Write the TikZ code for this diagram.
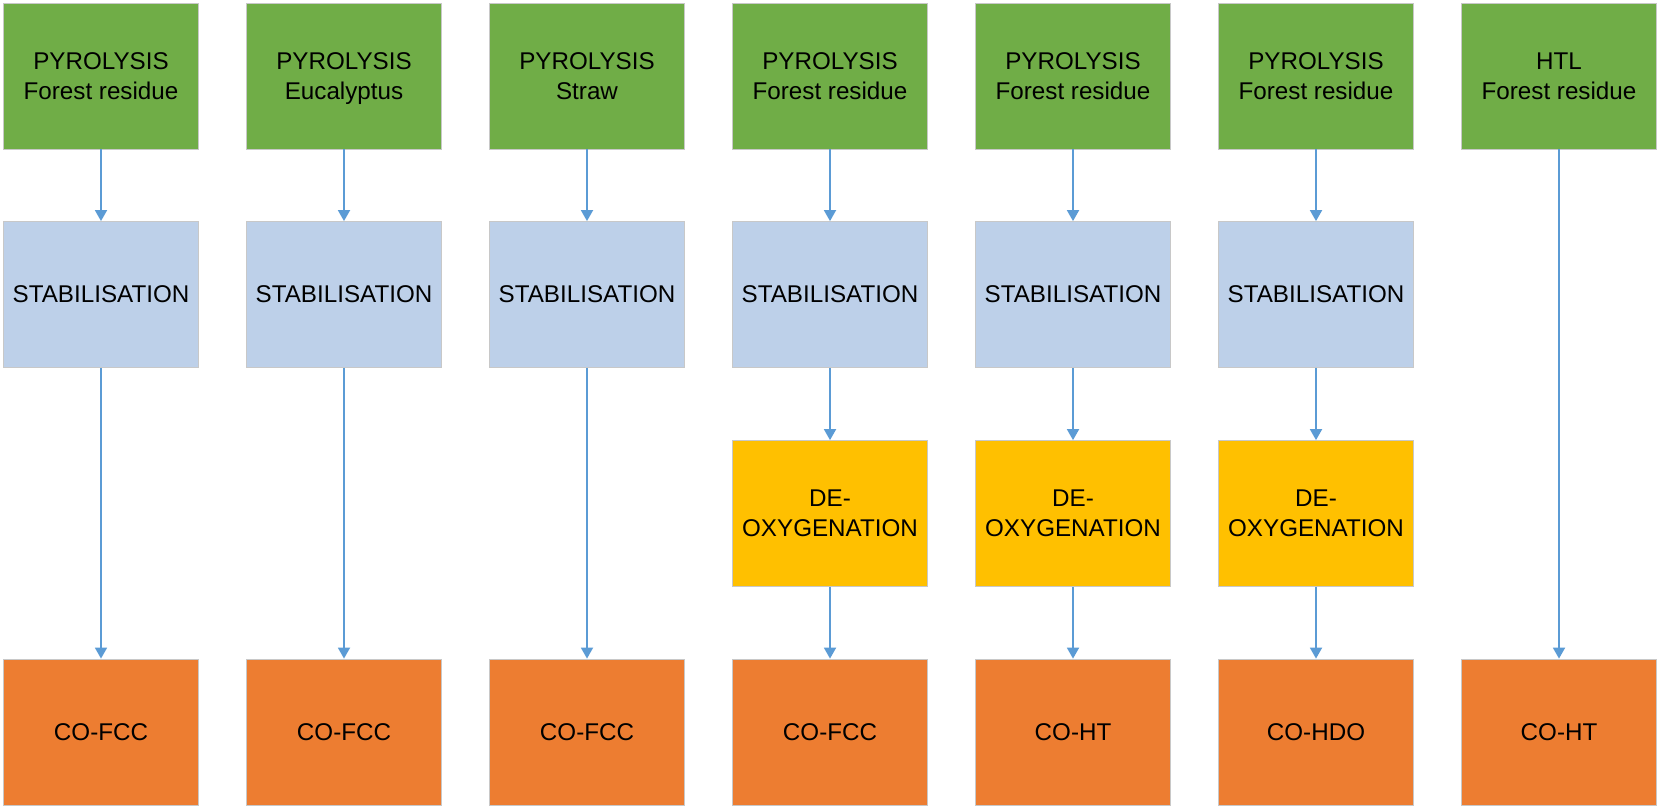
\documentclass[tikz,border=0pt]{standalone}
\usepackage{fontspec}
\setmainfont{Liberation Sans}
\usetikzlibrary{arrows.meta}
\definecolor{cgreen}{HTML}{70AD47}
\definecolor{cblue}{HTML}{BDD0E9}
\definecolor{cyellow}{HTML}{FFC000}
\definecolor{corange}{HTML}{ED7D31}
\definecolor{carrow}{HTML}{5B9BD5}
\definecolor{cborder}{HTML}{C8C8C8}
\tikzset{
  procbox/.style={rectangle, minimum width=195pt, minimum height=146pt, inner sep=0pt,
    align=center, draw=cborder, line width=0.8pt,
    font=\fontsize{24.2}{29.6}\selectfont},
  pyro/.style={procbox, fill=cgreen},
  stab/.style={procbox, fill=cblue},
  deox/.style={procbox, fill=cyellow},
  prod/.style={procbox, fill=corange},
  flow/.style={draw=carrow, line width=1.8pt, -{Triangle[width=12pt,length=11pt]}}
}
\begin{document}
\begin{tikzpicture}[x=1pt,y=1pt]
\useasboundingbox (0,0) rectangle (1659,-807);
% column 1
\node[pyro] (g1) at (101,-76) {PYROLYSIS\\Forest residue};
\node[stab] (b1) at (101,-294.5) {STABILISATION};
\node[prod] (o1) at (101,-732) {CO-FCC};
% column 2
\node[pyro] (g2) at (344,-76) {PYROLYSIS\\\smash{Eucalyptus}};
\node[stab] (b2) at (344,-294.5) {STABILISATION};
\node[prod] (o2) at (344,-732) {CO-FCC};
% column 3
\node[pyro] (g3) at (587,-76) {PYROLYSIS\\Straw};
\node[stab] (b3) at (587,-294.5) {STABILISATION};
\node[prod] (o3) at (587,-732) {CO-FCC};
% column 4
\node[pyro] (g4) at (830,-76) {PYROLYSIS\\Forest residue};
\node[stab] (b4) at (830,-294.5) {STABILISATION};
\node[deox] (y4) at (830,-513.5) {DE-\\OXYGENATION};
\node[prod] (o4) at (830,-732) {CO-FCC};
% column 5
\node[pyro] (g5) at (1073,-76) {PYROLYSIS\\Forest residue};
\node[stab] (b5) at (1073,-294.5) {STABILISATION};
\node[deox] (y5) at (1073,-513.5) {DE-\\OXYGENATION};
\node[prod] (o5) at (1073,-732) {CO-HT};
% column 6
\node[pyro] (g6) at (1316,-76) {PYROLYSIS\\Forest residue};
\node[stab] (b6) at (1316,-294.5) {STABILISATION};
\node[deox] (y6) at (1316,-513.5) {DE-\\OXYGENATION};
\node[prod] (o6) at (1316,-732) {CO-HDO};
% column 7
\node[pyro] (g7) at (1559,-76) {HTL\\Forest residue};
\node[prod] (o7) at (1559,-732) {CO-HT};
% connectors
\draw[flow] (g1) -- (b1);
\draw[flow] (b1) -- (o1);
\draw[flow] (g2) -- (b2);
\draw[flow] (b2) -- (o2);
\draw[flow] (g3) -- (b3);
\draw[flow] (b3) -- (o3);
\draw[flow] (g4) -- (b4);
\draw[flow] (b4) -- (y4);
\draw[flow] (y4) -- (o4);
\draw[flow] (g5) -- (b5);
\draw[flow] (b5) -- (y5);
\draw[flow] (y5) -- (o5);
\draw[flow] (g6) -- (b6);
\draw[flow] (b6) -- (y6);
\draw[flow] (y6) -- (o6);
\draw[flow] (g7) -- (o7);
\end{tikzpicture}
\end{document}
